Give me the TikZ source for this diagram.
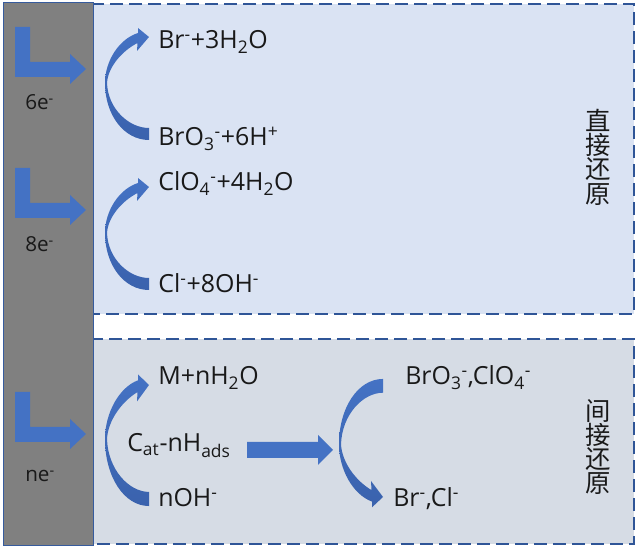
\documentclass[tikz,border=0pt]{standalone}
\usepackage{fontspec}
\setmainfont{Open Sans}
\newfontfamily\cjk{Noto Sans CJK SC}
\definecolor{arrowblue}{HTML}{4472C4}
\definecolor{arrowdark}{HTML}{3A62AD}
\definecolor{dashblue}{HTML}{2F5597}
\definecolor{panelup}{HTML}{DAE3F3}
\definecolor{paneldown}{HTML}{D6DCE5}
\tikzset{
  panel/.style={draw=dashblue, line width=2.1pt, dash pattern=on 9.75pt off 4.5pt},
  formula/.style={anchor=base west, inner sep=0pt, font=\fontsize{18.7}{20}\selectfont, text=black!90},
  elabel/.style={anchor=base west, inner sep=0pt, font=\fontsize{15.5}{17}\selectfont, text=black!90},
  sidelabel/.style={inner sep=0pt, align=center, text=black!90, font=\cjk\fontsize{19}{18.2}\selectfont},
  bentarrow/.pic={
    \fill[arrowblue] (0,0) -- (15,0) -- (15,35) -- (55,35) -- (55,27) -- (71,42)
      -- (55,57) -- (55,50) -- (0,50) -- cycle;
  },
  curvearrow/.pic={
    \shade[top color=arrowblue, bottom color=arrowdark] (0,0) -- (-11,-9) -- (-11,-4)
      .. controls (-30,2) and (-44,24) .. (-44,46)
      .. controls (-44,78) and (-25,103) .. (0,103) -- (0,91)
      .. controls (-20,91) and (-41,72) .. (-42,46)
      .. controls (-41,30) and (-27,14) .. (-11.5,6) -- (-12,14) -- cycle;
  },
}
\begin{document}
\begin{tikzpicture}[x=0.75pt, y=-0.75pt]
  \useasboundingbox (0,0) rectangle (636,548);
  % panels and electrode
  \draw[panel, fill=panelup] (93,4) rectangle (634,314);
  \draw[panel, fill=paneldown] (93,339) rectangle (634,544);
  \draw[fill=black!50, draw=arrowblue!80!black, line width=0.6pt] (3,2) rectangle (93,545);
  % electrons
  \pic at (15,27) {bentarrow};
  \pic at (15,168) {bentarrow};
  \pic at (15,392) {bentarrow};
  \node[elabel] (six) at (25,110) {6e\textsuperscript{-}};
  \node[elabel] (eight) at (25,252) {8e\textsuperscript{-}};
  \node[elabel] (nel) at (25,482) {ne\textsuperscript{-}};
  % direct
  \pic at (149,37) {curvearrow};
  \pic at (149,187) {curvearrow};
  \node[formula] (bromide) at (158,49) {Br\textsuperscript{-}+3H\textsubscript{2}O};
  \node[formula] (bromate) at (158,146) {BrO\textsubscript{3}\textsuperscript{-}+6H\textsuperscript{+}};
  \node[formula] (perchlorate) at (158,191) {ClO\textsubscript{4}\textsuperscript{-}+4H\textsubscript{2}O};
  \node[formula] (chloride) at (158,293) {Cl\textsuperscript{-}+8OH\textsuperscript{-}};
  \node[sidelabel] (direct) at (598,157) {直\\接\\还\\原};
  % indirect
  \pic[yscale=1.175] at (149,385) {curvearrow};
  \pic[yscale=-1.146] at (383,497) {curvearrow};
  \fill[arrowblue] (247,442) -- (318,442) -- (318,435) -- (333,450) -- (318,465)
    -- (318,458) -- (247,458) -- cycle;
  \node[formula] (metal) at (158,385) {M+nH\textsubscript{2}O};
  \node[formula] (hads) at (127,452) {C\textsubscript{at}-nH\textsubscript{ads}};
  \node[formula] (hydroxide) at (158,507) {nOH\textsuperscript{-}};
  \node[formula] (oxyanions) at (405,385) {BrO\textsubscript{3}\textsuperscript{-},ClO\textsubscript{4}\textsuperscript{-}};
  \node[formula] (halides) at (393,507) {Br\textsuperscript{-},Cl\textsuperscript{-}};
  \node[sidelabel] (indirect) at (598,447) {间\\接\\还\\原};
\end{tikzpicture}
\end{document}
